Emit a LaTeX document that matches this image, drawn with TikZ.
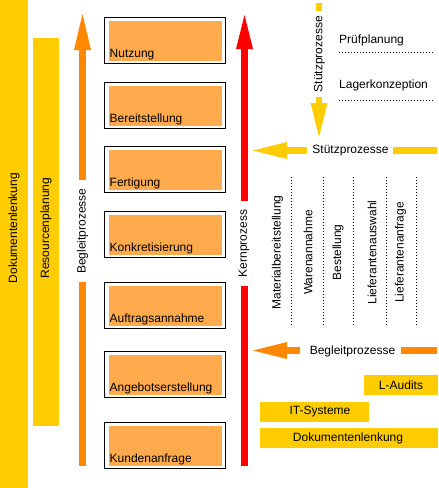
\documentclass[tikz,border=0pt]{standalone}
\usepackage{fontspec}
\setmainfont{Liberation Sans}
\usetikzlibrary{arrows.meta}
\definecolor{ygold}{RGB}{255,204,0}
\definecolor{aorange}{RGB}{255,136,0}
\definecolor{boxfill}{RGB}{255,170,76}
\definecolor{kred}{RGB}{255,0,0}
\newcommand{\procbox}[3]{%
  \node[outerbox] (#1) at (165,#2+23.5) {};
  \fill[boxfill] (109,#2+4) rectangle (222,#2+44);
  \node[lbl, anchor=base west] (#1t) at (109.5,#2+40.3) {#3};
}
\begin{document}
\begin{tikzpicture}[x=1pt,y=-1pt,
  font=\fontsize{12}{14}\selectfont,
  lbl/.style={inner sep=0pt},
  vlbl/.style={inner sep=0pt,rotate=90},
  ybox/.style={fill=ygold,inner sep=0pt,minimum height=20pt},
  outerbox/.style={draw,line width=1pt,minimum width=121pt,minimum height=46pt,inner sep=0pt},
  bigtip/.style={-{Triangle[length=#1,width=17pt,line width=0pt]}},
  oshaft/.style={aorange,line width=7pt},
  rshaft/.style={kred,line width=7pt},
  yshaft/.style={ygold,line width=7pt},
  dotline/.style={line width=1pt,dash pattern=on 1pt off 2pt}
]
\useasboundingbox (0,0) rectangle (439,488);

% left bars
\node[fill=ygold,inner sep=0pt,minimum width=28pt,minimum height=488pt] (dokbar) at (14,244) {};
\node[vlbl] (doktxt) at (14,228) {Dokumentenlenkung};
\node[fill=ygold,inner sep=0pt,minimum width=26pt,minimum height=388pt] (resbar) at (46,232) {};
\node[vlbl] (restxt) at (46,228) {Resourcenplanung};

% Begleitprozesse vertical arrow
\node[vlbl] (bpv) at (82.5,231) {Begleitprozesse};
\coordinate (bpA) at (82.5,466);
\coordinate (bpB) at (82.5,282);
\coordinate (bpC) at (82.5,180);
\coordinate (bpD) at (82.5,14);
\draw[oshaft] (bpA) -- (bpB);
\draw[oshaft,bigtip=36pt] (bpC) -- (bpD);

% process boxes
\procbox{nutzung}{17}{Nutzung}
\procbox{bereit}{82}{Bereitstellung}
\procbox{fertig}{146}{Fertigung}
\procbox{konkret}{211}{Konkretisierung}
\procbox{auftrag}{282}{Auftragsannahme}
\procbox{angebot}{351}{Angebotserstellung}
\procbox{kunden}{422}{Kundenanfrage}

% Kernprozess red arrow
\node[vlbl] (kern) at (244,243.5) {Kernprozess};
\coordinate (kA) at (244.5,466);
\coordinate (kB) at (244.5,286);
\coordinate (kC) at (244.5,201);
\coordinate (kD) at (244.5,15);
\draw[rshaft] (kA) -- (kB);
\draw[rshaft,bigtip=34pt] (kC) -- (kD);

% Stuetzprozesse vertical
\node[vlbl] (spv) at (319.5,54) {Stützprozesse};
\coordinate (svA) at (319,3);
\coordinate (svB) at (319,11);
\coordinate (svC) at (319,97);
\coordinate (svD) at (319,137);
\draw[ygold,line width=6pt] (svA) -- (svB);
\draw[ygold,line width=6pt,bigtip=34pt] (svC) -- (svD);

\node[lbl,anchor=base west] (pruef) at (339,43.5) {Prüfplanung};
\node[lbl,anchor=base west] (lager) at (339,88) {Lagerkonzeption};
\coordinate (pl1) at (339,52); \coordinate (pl2) at (433,52);
\coordinate (ll1) at (339,100.5); \coordinate (ll2) at (433,100.5);
\draw[dotline] (pl1) -- (pl2);
\draw[dotline] (ll1) -- (ll2);

% Stuetzprozesse horizontal
\node[lbl] (sph) at (350.5,151) {Stützprozesse};
\coordinate (shA) at (307,150.5);
\coordinate (shB) at (253,150.5);
\coordinate (shC) at (437,150.5);
\coordinate (shD) at (393,150.5);
\draw[yshaft,bigtip=34pt] (shA) -- (shB);
\draw[yshaft] (shC) -- (shD);

% columns
\foreach \xx/\nm in {291/c1,323/c2,353/c3,386/c4,416/c5}{
  \coordinate (\nm top) at (\xx,177);
  \coordinate (\nm bot) at (\xx,327);
  \draw[dotline] (\nm top) -- (\nm bot);
}
\node[vlbl] (mat) at (277.5,252.5) {Materialbereitstellung};
\node[vlbl] (waren) at (308,252.5) {Warenannahme};
\node[vlbl] (best) at (338,252.5) {Bestellung};
\node[vlbl] (lausw) at (372,252.5) {Lieferantenauswahl};
\node[vlbl] (lanf) at (400.5,252.5) {Lieferantenanfrage};

% Begleitprozesse horizontal
\node[lbl] (bph) at (352.5,351) {Begleitprozesse};
\coordinate (bhA) at (300,350.5);
\coordinate (bhB) at (253,350.5);
\coordinate (bhC) at (437,350.5);
\coordinate (bhD) at (401,350.5);
\draw[oshaft,bigtip=34pt] (bhA) -- (bhB);
\draw[oshaft] (bhC) -- (bhD);

% bottom boxes
\node[ybox,minimum width=74pt] (laud) at (401,385) {};
\node[lbl] (laudt) at (401,385) {L-Audits};
\node[ybox,minimum width=109pt] (its) at (314.5,412) {};
\node[lbl] (itst) at (320,412) {IT-Systeme};
\node[ybox,minimum width=178pt] (dok2) at (349,438) {};
\node[lbl] (dok2t) at (348,438) {Dokumentenlenkung};
\end{tikzpicture}
\end{document}
